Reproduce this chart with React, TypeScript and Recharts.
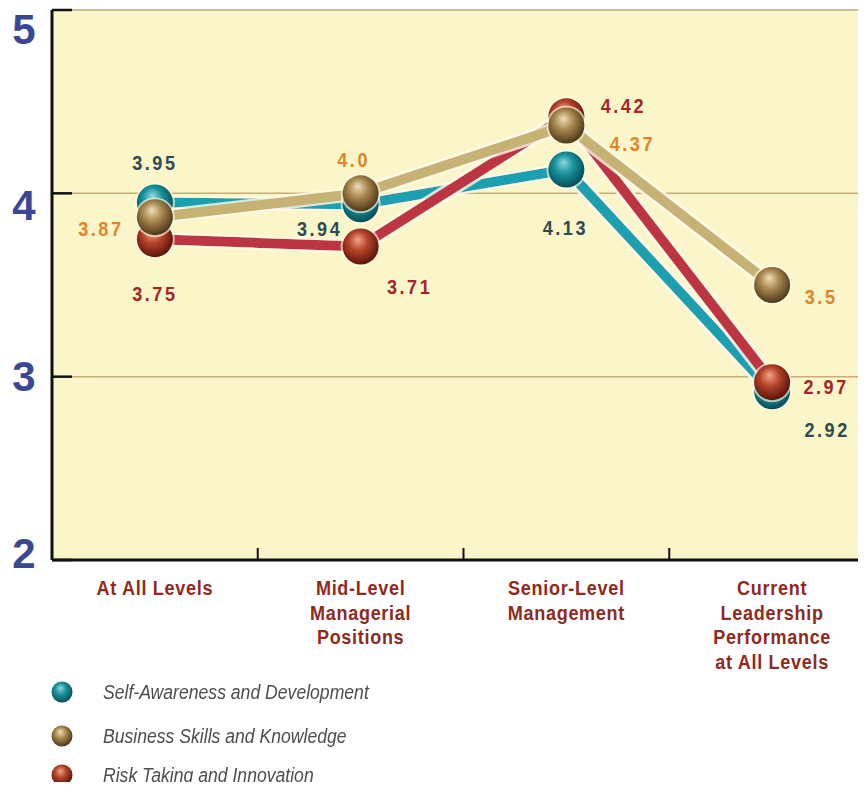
import React from 'react';
import { CartesianGrid, LabelList, Legend, Line, LineChart, XAxis, YAxis } from 'recharts';

// category positions on a 0..4 axis, boundaries at whole numbers
const categoryLines = [
  ['At All Levels'],
  ['Mid-Level', 'Managerial', 'Positions'],
  ['Senior-Level', 'Management'],
  ['Current', 'Leadership', 'Performance', 'at All Levels'],
];
const categoryPos = [0.5, 1.5, 2.5, 3.5];
const selfAwareness = [3.95, 3.94, 4.13, 2.92];
const businessSkills = [3.87, 4.0, 4.37, 3.5];
const riskTaking = [3.75, 3.71, 4.42, 2.97];
const seriesNames = [
  'Self-Awareness and Development',
  'Business Skills and Knowledge',
  'Risk Taking and Innovation',
];
const yTicks = [2, 3, 4, 5];
const xTicks = [0.5, 1, 1.5, 2, 2.5, 3, 3.5];

const data = categoryPos.map((pos, i) => ({
  pos,
  self: selfAwareness[i],
  business: businessSkills[i],
  risk: riskTaking[i],
}));

// where each value label sits relative to its ball
const selfShift = [[0, -40], [-41, 24], [-1, 58], [55, 38]];
const businessShift = [[-54, 11], [-7, -34], [66, 18], [49, 11]];
const riskShift = [[0, 54], [49, 40], [57, -11], [54, 4]];

const SANS = "'Liberation Sans', Arial, sans-serif";
const SQUEEZE = 0.86; // fake a condensed face

const fmt = (v: number) => (Number.isInteger(v) ? v.toFixed(1) : String(v));

const yLabelNudge: Record<number, number> = { 5: 19, 4: 12, 3: 0, 2: -7 };

const YTick = (props: any) => {
  const { x, y, payload } = props;
  return (
    <g>
      <line x1={x} x2={x + 20} y1={y} y2={y} stroke="#111" strokeWidth={2.5} />
      <text
        x={x - 28}
        y={y + (yLabelNudge[payload.value] ?? 0)}
        textAnchor="middle"
        dominantBaseline="central"
        fill="#3a4894"
        fontSize={42}
        fontWeight={700}
        fontFamily={SANS}
      >
        {payload.value}
      </text>
    </g>
  );
};

const XTick = (props: any) => {
  const { x, y, payload } = props;
  const v = payload.value as number;
  if (Number.isInteger(v)) {
    return <line x1={x} x2={x} y1={y} y2={y - 12} stroke="#111" strokeWidth={2} />;
  }
  const idx = categoryPos.indexOf(v);
  const lines = categoryLines[idx] || [];
  return (
    <g transform={`translate(${x} ${y}) scale(${SQUEEZE} 1)`}>
      <text
        textAnchor="middle"
        fill="#8e2a1e"
        fontSize={21}
        fontWeight={700}
        letterSpacing={0.8}
        fontFamily={SANS}
      >
        {lines.map((t, i) => (
          <tspan key={i} x={0} y={35 + i * 24.7}>
            {t}
          </tspan>
        ))}
      </text>
    </g>
  );
};

const makeBall = (grad: string) => (props: any) => {
  const { cx, cy, index } = props;
  if (cx == null || cy == null) return <g key={index} />;
  return (
    <g key={index}>
      <circle cx={cx} cy={cy} r={20} fill="#fffbe6" opacity={0.65} />
      <circle cx={cx} cy={cy} r={18} fill={`url(#${grad})`} />
    </g>
  );
};

const makeLabel = (color: string, shift: number[][]) => (props: any) => {
  const { x, y, value, index } = props;
  const [dx, dy] = shift[index] || [0, 0];
  return (
    <g transform={`translate(${x + dx} ${y + dy}) scale(${SQUEEZE} 1)`}>
      <text
        textAnchor="middle"
        dominantBaseline="central"
        fill={color}
        fontSize={21}
        fontWeight={700}
        letterSpacing={3}
        fontFamily={SANS}
      >
        {fmt(value)}
      </text>
    </g>
  );
};

const legendBalls = ['ballTeal', 'ballTan', 'ballRed'];
const legendRows = [12, 56, 95];

const LegendBox = () => (
  <div style={{ position: 'relative', height: 110 }}>
    {seriesNames.map((name, i) => (
      <div key={name}>
        <svg
          width={26}
          height={26}
          style={{ position: 'absolute', left: 49, top: legendRows[i] - 13 }}
        >
          <circle cx={13} cy={13} r={10.5} fill={`url(#${legendBalls[i]})`} />
        </svg>
        <span
          style={{
            position: 'absolute',
            left: 103,
            top: legendRows[i] - 13,
            lineHeight: '26px',
            fontFamily: SANS,
            fontStyle: 'italic',
            fontSize: 20,
            color: '#4d4d4d',
            whiteSpace: 'nowrap',
            transform: 'scaleX(0.88)',
            transformOrigin: 'left center',
          }}
        >
          {name}
        </span>
      </div>
    ))}
  </div>
);

const Ball = ({ id, hi, mid, lo }: { id: string; hi: string; mid: string; lo: string }) => (
  <radialGradient id={id} cx="45%" cy="42%" r="60%" fx="42%" fy="30%">
    <stop offset="0%" stopColor={hi} />
    <stop offset="45%" stopColor={mid} />
    <stop offset="100%" stopColor={lo} />
  </radialGradient>
);

export default function App() {
  return (
    <div style={{ margin: -8, width: 866, height: 790, overflow: 'hidden', background: '#fff' }}>
      <style>{`.recharts-line-curve { filter: url(#lineHalo); }`}</style>
      <LineChart width={880} height={790} data={data} margin={{ top: 10, right: 5, bottom: 0, left: 0 }}>
        <defs>
          <Ball id="ballTeal" hi="#8fd6da" mid="#17939c" lo="#074a52" />
          <Ball id="ballTan" hi="#f1dfb6" mid="#a8874f" lo="#4a3518" />
          <Ball id="ballRed" hi="#f3a384" mid="#b5432a" lo="#561206" />
          <filter id="lineHalo" x="-10%" y="-10%" width="120%" height="120%">
            <feMorphology in="SourceAlpha" operator="dilate" radius="1.5" result="grow" />
            <feFlood floodColor="#fffbea" floodOpacity="0.8" />
            <feComposite in2="grow" operator="in" result="halo" />
            <feMerge>
              <feMergeNode in="halo" />
              <feMergeNode in="SourceGraphic" />
            </feMerge>
          </filter>
        </defs>
        <CartesianGrid vertical={false} stroke="#c9ab7a" strokeWidth={1.5} fill="#fbf6c9" fillOpacity={1} />
        <XAxis
          dataKey="pos"
          type="number"
          domain={[0, 4]}
          ticks={xTicks}
          interval={0}
          height={120}
          tickSize={0}
          tickMargin={0}
          tickLine={false}
          axisLine={{ stroke: '#111', strokeWidth: 3 }}
          tick={<XTick />}
        />
        <YAxis
          domain={[2, 5]}
          ticks={yTicks}
          width={52}
          tickSize={0}
          tickMargin={0}
          tickLine={false}
          axisLine={{ stroke: '#111', strokeWidth: 3 }}
          tick={<YTick />}
        />
        <Legend verticalAlign="bottom" content={() => <LegendBox />} />
        <Line
          dataKey="self"
          name={seriesNames[0]}
          stroke="#1f9fae"
          strokeWidth={10}
          strokeLinejoin="round"
          dot={makeBall('ballTeal')}
          activeDot={false}
          isAnimationActive={false}
        >
          <LabelList dataKey="self" content={makeLabel('#2e4a52', selfShift)} />
        </Line>
        <Line
          dataKey="risk"
          name={seriesNames[2]}
          stroke="#bd3542"
          strokeWidth={10}
          strokeLinejoin="round"
          dot={makeBall('ballRed')}
          activeDot={false}
          isAnimationActive={false}
        >
          <LabelList dataKey="risk" content={makeLabel('#a3262b', riskShift)} />
        </Line>
        <Line
          dataKey="business"
          name={seriesNames[1]}
          stroke="#c6b274"
          strokeWidth={10}
          strokeLinejoin="round"
          dot={makeBall('ballTan')}
          activeDot={false}
          isAnimationActive={false}
        >
          <LabelList dataKey="business" content={makeLabel('#e0832a', businessShift)} />
        </Line>
      </LineChart>
    </div>
  );
}
